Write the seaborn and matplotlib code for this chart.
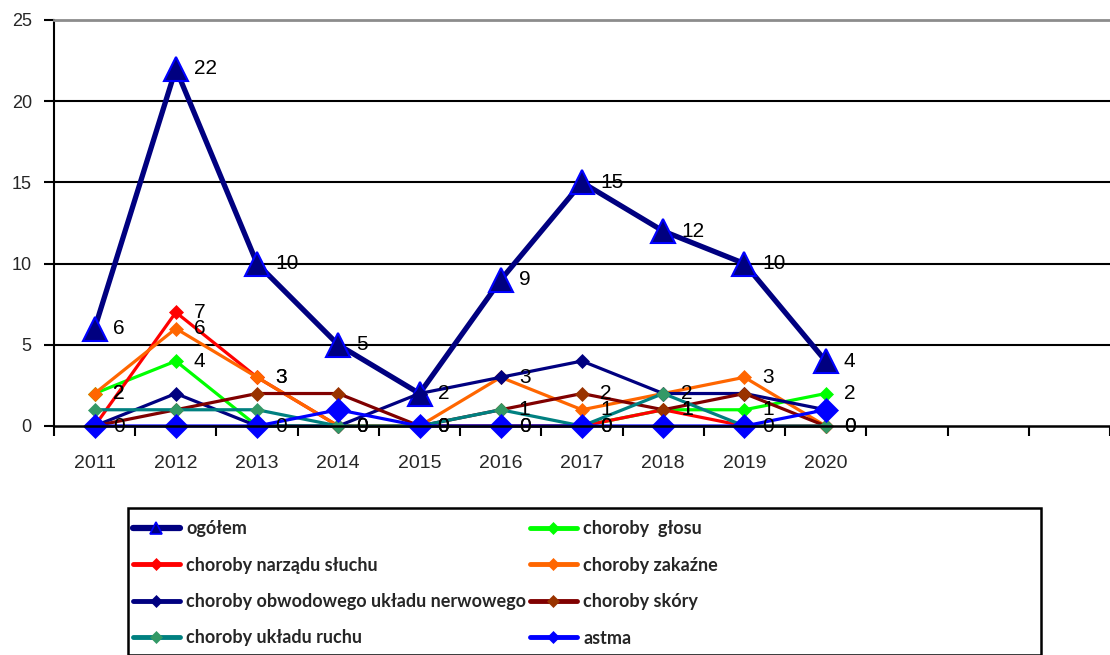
import matplotlib
matplotlib.use("Agg")
import matplotlib.pyplot as plt
import seaborn as sns
import pandas as pd
from matplotlib.lines import Line2D
from matplotlib.patches import Rectangle

# ---------------- data ----------------
years = ["2011", "2012", "2013", "2014", "2015", "2016", "2017", "2018", "2019", "2020"]
n_empty_slots = 3  # empty categories on the right of the axis

series_names = [
    "ogółem",
    "choroby  głosu",
    "choroby narządu słuchu",
    "choroby zakaźne",
    "choroby obwodowego układu nerwowego",
    "choroby skóry",
    "choroby układu ruchu",
    "astma",
]
ogolem = [6, 22, 10, 5, 2, 9, 15, 12, 10, 4]
glosu = [2, 4, 0, 0, 0, 0, 0, 1, 1, 2]
sluchu = [0, 7, 3, 0, 0, 0, 0, 1, 0, 0]
zakazne = [2, 6, 3, 0, 0, 3, 1, 2, 3, 0]
obwodowego = [0, 2, 0, 0, 2, 3, 4, 2, 2, 1]
skory = [0, 1, 2, 2, 0, 1, 2, 1, 2, 0]
ruchu = [1, 1, 1, 0, 0, 1, 0, 2, 0, 0]
astma = [0, 0, 0, 1, 0, 0, 0, 0, 0, 1]
values = [ogolem, glosu, sluchu, zakazne, obwodowego, skory, ruchu, astma]

# which points carry a data label in the original
all_on = [True] * 10
none_on = [False] * 10
skory_labels = [False, False, False, False, False, True, True, True, False, False]
label_flags = [all_on, all_on, all_on, all_on, none_on, skory_labels, none_on, none_on]

# ---------------- styles ----------------
styles = [
    dict(color="#000080", lw=3.8, marker="^", ms=17, mfc="#000080", mec="#0000FF", mew=1.5, lms=9),
    dict(color="#00FF00", lw=2.3, marker="D", ms=7, mfc="#00FF00", mec="#00FF00", mew=0.5, lms=6.5),
    dict(color="#FF0000", lw=2.3, marker="D", ms=7, mfc="#FF0000", mec="#FF0000", mew=0.5, lms=6.5),
    dict(color="#FF6600", lw=2.3, marker="D", ms=7, mfc="#FF6600", mec="#FF6600", mew=0.5, lms=6.5),
    dict(color="#000080", lw=2.3, marker="D", ms=7, mfc="#000080", mec="#000080", mew=0.5, lms=6.5),
    dict(color="#800000", lw=2.3, marker="D", ms=7, mfc="#993300", mec="#993300", mew=0.5, lms=6.5),
    dict(color="#008080", lw=2.3, marker="D", ms=7, mfc="#339966", mec="#339966", mew=0.5, lms=6.5),
    dict(color="#0000FF", lw=2.3, marker="D", ms=12, mfc="#0000FF", mec="#0000FF", mew=0.5, lms=6.5),
]

narrow = ["Liberation Sans Narrow", "Liberation Sans", "DejaVu Sans"]

sns.set_theme(style="white")
plt.rcParams["font.family"] = narrow

W, H = 1110, 655
fig = plt.figure(figsize=(W / 100, H / 100), dpi=100)
fig.patch.set_facecolor("white")

# axes: left 54px, top 20px, bottom 426px, extends to right edge
ax = fig.add_axes([54 / W, (H - 426) / H, (W - 54) / W, (426 - 20) / H])
ax.set_facecolor("white")

x_pos = list(range(len(years)))
for name, vals, st in zip(series_names, values, styles):
    df = pd.DataFrame({"x": x_pos, "y": vals})
    sns.lineplot(
        data=df, x="x", y="y", ax=ax, color=st["color"], linewidth=st["lw"],
        marker=st["marker"], markersize=st["ms"], markerfacecolor=st["mfc"],
        markeredgecolor=st["mec"], markeredgewidth=st["mew"], legend=False,
        clip_on=False,
    )

# data labels
for vals, flags in zip(values, label_flags):
    for xi, (v, f) in enumerate(zip(vals, flags)):
        if f:
            ax.annotate(str(v), (xi, v), xytext=(13, 0), textcoords="offset points",
                        ha="left", va="center", fontsize=15, color="black",
                        family=narrow, zorder=10)

# axes styling
cat_width_px = 82
ax.set_xlim(-0.5, -0.5 + (W - 54) / cat_width_px)
ax.set_ylim(0, 25)
ax.set_yticks([0, 5, 10, 15, 20, 25])
ax.set_yticklabels(["0", "5", "10", "15", "20", "25"], fontsize=13)
ax.set_xticks(x_pos)
ax.set_xticklabels(years, fontsize=14)
ax.set_xticks([i - 0.5 for i in range(len(years) + n_empty_slots + 1)], minor=True)
ax.tick_params(axis="x", which="major", length=0, pad=21)
ax.tick_params(axis="x", which="minor", length=7, width=1.5, color="black", direction="out", bottom=True)
ax.tick_params(axis="y", which="major", length=7, width=1.5, color="black", direction="out", left=True, pad=9)
ax.set_xlabel("")
ax.set_ylabel("")
for yv in [5, 10, 15, 20]:
    ax.axhline(yv, color="black", lw=1.5, zorder=0.5)
ax.grid(False)
ax.spines["left"].set_color("black")
ax.spines["left"].set_linewidth(1.5)
ax.spines["bottom"].set_color("black")
ax.spines["bottom"].set_linewidth(1.8)
ax.spines["top"].set_color("#8c8c8c")
ax.spines["top"].set_linewidth(2)
ax.spines["right"].set_visible(False)

# legend frame
fig.patches.append(Rectangle((128 / W, 0), (1041 - 128) / W, (H - 508) / H,
                             transform=fig.transFigure, fill=True, facecolor="white",
                             edgecolor="black", linewidth=1.8, zorder=1))

handles = []
for st in styles:
    handles.append(Line2D([], [], color=st["color"], lw=4.5 if st["marker"] == "^" else 3.5,
                          marker=st["marker"], markersize=st["lms"], markerfacecolor=st["mfc"],
                          markeredgecolor=st["mec"], markeredgewidth=1.2 if st["marker"] == "^" else 0.5))

left_idx = [0, 2, 4, 6]
right_idx = [1, 3, 5, 7]
leg_font = dict(family="Lato", weight="bold", size=13)
for idx, xpx in [(left_idx, 133), (right_idx, 530)]:
    leg = fig.legend([handles[i] for i in idx], [series_names[i] for i in idx],
                     loc="upper left", bbox_to_anchor=(xpx / W, 1 - 520 / H),
                     bbox_transform=fig.transFigure, frameon=False, borderpad=0,
                     borderaxespad=0, handlelength=2.6, handletextpad=0.35,
                     labelspacing=1.08, prop=leg_font)
    leg.set_zorder(5)

fig.savefig("out.png", dpi=100, facecolor="white")
